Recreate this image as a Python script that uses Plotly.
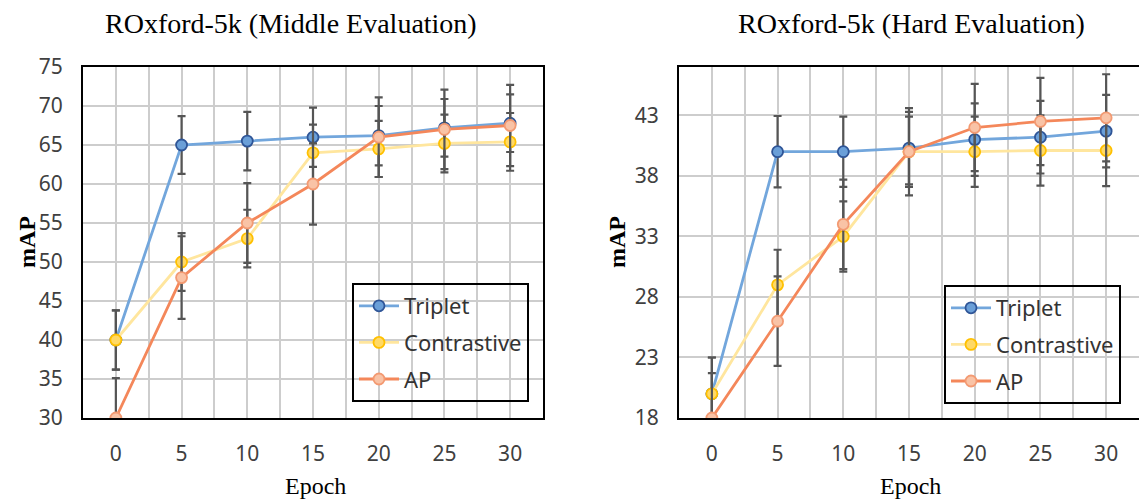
import plotly.graph_objects as go

W, H = 1139, 503

epochs = [0, 5, 10, 15, 20, 25, 30]

# Middle evaluation
mid_triplet = [40, 65, 65.5, 66, 66.2, 67.2, 67.8]
mid_contrastive = [40, 50, 53, 64, 64.5, 65.2, 65.4]
mid_ap = [30, 48, 55, 60, 66, 67, 67.5]
mid_triplet_err = [3.8, 3.7, 3.75, 3.8, 3.8, 3.7, 3.7]
mid_contrastive_err = [3.8, 3.7, 3.7, 3.6, 3.6, 3.7, 3.7]
mid_ap_err = [5.1, 5.3, 5.1, 5.2, 5.1, 5.1, 5.2]

# Hard evaluation
hard_triplet = [20, 40, 40, 40.3, 41, 41.2, 41.7]
hard_contrastive = [20, 29, 33, 40, 40, 40.1, 40.1]
hard_ap = [18, 26, 34, 40, 42, 42.5, 42.8]
hard_triplet_err = [3.0, 2.95, 2.9, 3.0, 3.0, 3.0, 3.0]
hard_contrastive_err = [3.0, 2.9, 2.9, 2.9, 2.9, 2.9, 2.95]
hard_ap_err = [3.7, 3.7, 3.7, 3.6, 3.6, 3.6, 3.6]

series_names = ["Triplet", "Contrastive", "AP"]
titles = ["ROxford-5k (Middle Evaluation)", "ROxford-5k (Hard Evaluation)"]

line_colors = ["#72A6DC", "#FFE69E", "#F4875A"]
marker_fill = ["#6A9FD8", "#FFD966", "#F9C3A6"]
marker_edge = ["#2F5597", "#FFC000", "#F39A72"]
ERR_COLOR = "#555555"

SANS = "Noto Sans, DejaVu Sans, sans-serif"
SERIF = "Liberation Serif, Times New Roman, serif"


def px_x(p):
    return p / W


def px_y(p):
    return 1 - p / H


fig = go.Figure()

panels = [
    (mid_triplet, mid_contrastive, mid_ap, mid_triplet_err, mid_contrastive_err, mid_ap_err),
    (hard_triplet, hard_contrastive, hard_ap, hard_triplet_err, hard_contrastive_err, hard_ap_err),
]

for pi, panel in enumerate(panels):
    vals = panel[:3]
    errs = panel[3:]
    xa = "x" if pi == 0 else "x2"
    ya = "y" if pi == 0 else "y2"
    leg = "legend" if pi == 0 else "legend2"
    for si in range(3):
        fig.add_trace(go.Scatter(
            x=epochs, y=vals[si], name=series_names[si],
            mode="lines+markers",
            line=dict(color=line_colors[si], width=2.8),
            marker=dict(size=11, color=marker_fill[si],
                        line=dict(color=marker_edge[si], width=1.8)),
            error_y=dict(type="data", array=errs[si], visible=True,
                         color=ERR_COLOR, thickness=2.2, width=4),
            xaxis=xa, yaxis=ya, legend=leg,
            legendgroup=f"g{pi}{si}",
            cliponaxis=True,
        ))

y_dom = [px_y(418), px_y(67)]
left_dom = [px_x(83), px_x(543)]
right_dom = [px_x(679), 1.0]

common_x = dict(
    range=[-2.5, 32.5], tickmode="array", tickvals=epochs,
    ticktext=[str(e) for e in epochs],
    showgrid=True, gridcolor="#CDCDCD", gridwidth=2,
    minor=dict(tickmode="array", tickvals=[-2.5 + 2.5 * k for k in range(15)],
               showgrid=True, gridcolor="#CDCDCD", gridwidth=2, ticks=""),
    showline=True, linecolor="black", linewidth=2, mirror=True,
    ticks="", ticklabelstandoff=16,
    tickfont=dict(family=SANS, size=21, color="#404040"),
    zeroline=False, fixedrange=True, automargin=False,
)

fig.update_layout(
    width=W, height=H,
    margin=dict(l=0, r=0, t=0, b=0, pad=0, autoexpand=False),
    paper_bgcolor="white", plot_bgcolor="white",
    xaxis=dict(domain=left_dom, anchor="y", **common_x),
    xaxis2=dict(domain=right_dom, anchor="y2", **common_x),
    yaxis=dict(domain=y_dom, anchor="x", range=[30, 75], tick0=30, dtick=5,
               showgrid=True, gridcolor="#CDCDCD", gridwidth=2,
               showline=True, linecolor="black", linewidth=2, mirror=True,
               ticks="", ticklabelstandoff=14, automargin=False,
               tickfont=dict(family=SANS, size=21, color="#404040"),
               zeroline=False, fixedrange=True),
    yaxis2=dict(domain=y_dom, anchor="x2", range=[18, 47], tick0=18, dtick=5,
                showgrid=True, gridcolor="#CDCDCD", gridwidth=2,
                showline=True, linecolor="black", linewidth=2, mirror=False,
                ticks="", ticklabelstandoff=14, automargin=False,
                tickfont=dict(family=SANS, size=21, color="#404040"),
                zeroline=False, fixedrange=True),
    legend=dict(x=px_x(352), y=px_y(283), xanchor="left", yanchor="top",
                bgcolor="rgba(0,0,0,0)", bordercolor="black", borderwidth=2,
                font=dict(family=SANS, size=22, color="#333333"),
                tracegroupgap=5, itemwidth=40),
    legend2=dict(x=px_x(944), y=px_y(285), xanchor="left", yanchor="top",
                 bgcolor="rgba(0,0,0,0)", bordercolor="black", borderwidth=2,
                 font=dict(family=SANS, size=22, color="#333333"),
                 tracegroupgap=5, itemwidth=40),
    showlegend=True,
)

annotations = [
    dict(text=titles[0], x=px_x(291), y=px_y(24), xref="paper", yref="paper",
         showarrow=False, font=dict(family=SERIF, size=28, color="black"),
         xanchor="center", yanchor="middle"),
    dict(text=titles[1], x=px_x(911), y=px_y(24), xref="paper", yref="paper",
         showarrow=False, font=dict(family=SERIF, size=28, color="black"),
         xanchor="center", yanchor="middle"),
    dict(text="<b>mAP</b>", x=px_x(27), y=px_y(242), xref="paper", yref="paper",
         showarrow=False, textangle=-90, font=dict(family=SERIF, size=24, color="black"),
         xanchor="center", yanchor="middle"),
    dict(text="<b>mAP</b>", x=px_x(617), y=px_y(242), xref="paper", yref="paper",
         showarrow=False, textangle=-90, font=dict(family=SERIF, size=24, color="black"),
         xanchor="center", yanchor="middle"),
    dict(text="Epoch", x=px_x(315), y=px_y(486), xref="paper", yref="paper",
         showarrow=False, font=dict(family=SERIF, size=24, color="black"),
         xanchor="center", yanchor="middle"),
    dict(text="Epoch", x=px_x(910), y=px_y(486), xref="paper", yref="paper",
         showarrow=False, font=dict(family=SERIF, size=24, color="black"),
         xanchor="center", yanchor="middle"),
]
fig.update_layout(annotations=annotations)

fig.write_html("out.html",
               config=dict(displayModeBar=False, staticPlot=False),
               post_script="document.body.style.margin='0';document.body.style.overflow='hidden';")
